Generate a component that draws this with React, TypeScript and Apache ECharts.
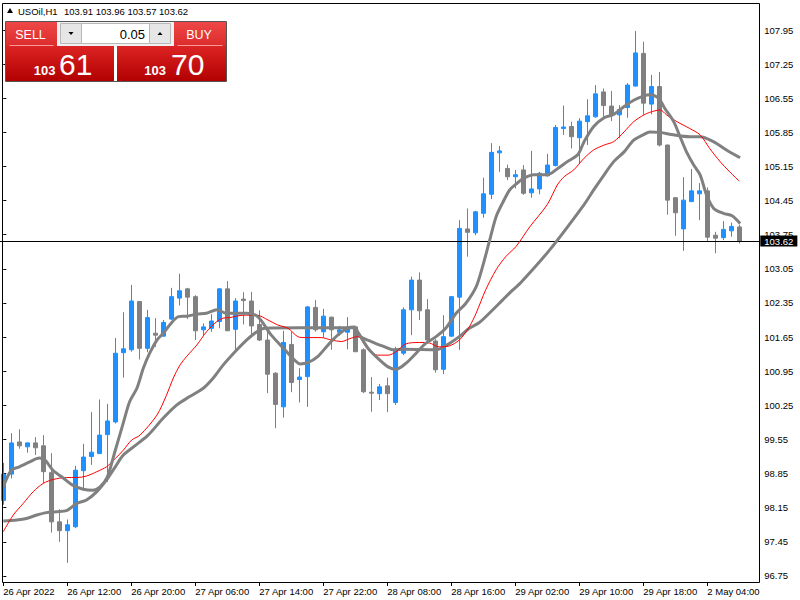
import React, { useEffect, useRef } from "react";
import * as echarts from "echarts";

// ---------- data ----------
const CATEGORIES: string[] = [
  "26 Apr 04:00", "26 Apr 05:00", "26 Apr 06:00", "26 Apr 07:00", "26 Apr 08:00", "26 Apr 09:00", "26 Apr 10:00", "26 Apr 11:00",
  "26 Apr 12:00", "26 Apr 13:00", "26 Apr 14:00", "26 Apr 15:00", "26 Apr 16:00", "26 Apr 17:00", "26 Apr 18:00", "26 Apr 19:00",
  "26 Apr 20:00", "26 Apr 21:00", "26 Apr 22:00", "26 Apr 23:00",
  "27 Apr 02:00", "27 Apr 03:00", "27 Apr 04:00", "27 Apr 05:00", "27 Apr 06:00", "27 Apr 07:00", "27 Apr 08:00", "27 Apr 09:00",
  "27 Apr 10:00", "27 Apr 11:00", "27 Apr 12:00", "27 Apr 13:00", "27 Apr 14:00", "27 Apr 15:00", "27 Apr 16:00", "27 Apr 17:00",
  "27 Apr 18:00", "27 Apr 19:00", "27 Apr 20:00", "27 Apr 21:00", "27 Apr 22:00", "27 Apr 23:00",
  "28 Apr 02:00", "28 Apr 03:00", "28 Apr 04:00", "28 Apr 05:00", "28 Apr 06:00", "28 Apr 07:00", "28 Apr 08:00", "28 Apr 09:00",
  "28 Apr 10:00", "28 Apr 11:00", "28 Apr 12:00", "28 Apr 13:00", "28 Apr 14:00", "28 Apr 15:00", "28 Apr 16:00", "28 Apr 17:00",
  "28 Apr 18:00", "28 Apr 19:00", "28 Apr 20:00", "28 Apr 21:00", "28 Apr 22:00", "28 Apr 23:00",
  "29 Apr 02:00", "29 Apr 03:00", "29 Apr 04:00", "29 Apr 05:00", "29 Apr 06:00", "29 Apr 07:00", "29 Apr 08:00", "29 Apr 09:00",
  "29 Apr 10:00", "29 Apr 11:00", "29 Apr 12:00", "29 Apr 13:00", "29 Apr 14:00", "29 Apr 15:00", "29 Apr 16:00", "29 Apr 17:00",
  "29 Apr 18:00", "29 Apr 19:00", "29 Apr 20:00", "29 Apr 21:00", "29 Apr 22:00", "29 Apr 23:00",
  "2 May 02:00", "2 May 03:00", "2 May 04:00", "2 May 05:00", "2 May 06:00", "2 May 07:00", "2 May 08:00",
];
const FIRST_LABEL = "26 Apr 2022";

const OPEN = [
  98.30, 98.84, 99.50, 99.40, 99.48, 99.42, 98.87, 97.86, 97.68, 97.76,
  98.91, 99.20, 99.26, 99.65, 99.91, 101.33, 101.39, 102.38, 101.42, 101.73,
  101.67, 102.02, 102.45, 102.64, 102.48, 101.80, 101.83, 101.97, 102.64, 101.81,
  102.43, 102.39, 101.91, 101.59, 100.91, 100.22, 101.50, 100.78, 100.84, 102.26,
  101.76, 102.06, 101.75, 101.75, 101.86, 101.39, 100.52, 100.49, 100.65, 100.31,
  101.32, 102.21, 102.82, 102.21, 101.57, 100.99, 101.67, 102.47, 103.87, 103.79,
  104.19, 104.58, 105.43, 105.11, 104.94, 105.08, 104.61, 104.69, 104.96, 105.17,
  105.93, 105.97, 105.74, 106.07, 106.17, 106.68, 106.39, 106.21, 106.36, 106.80,
  107.47, 106.43, 106.79, 105.59, 104.51, 103.87, 104.43, 104.59, 104.65, 103.74,
  103.69, 103.83, 103.91,
];
const CLOSE = [
  98.84, 99.48, 99.42, 99.48, 99.38, 98.89, 97.86, 97.68, 97.80, 98.92,
  99.19, 99.29, 99.64, 99.93, 101.32, 101.41, 102.39, 101.42, 102.05, 101.69,
  101.95, 102.48, 102.60, 102.47, 101.78, 101.86, 101.98, 102.64, 101.78, 102.39,
  102.40, 101.88, 101.59, 100.89, 100.27, 101.54, 100.72, 100.83, 102.27, 101.80,
  102.08, 101.80, 101.80, 101.85, 101.35, 100.53, 100.50, 100.63, 100.49, 101.40,
  102.21, 102.82, 102.19, 101.59, 100.98, 101.66, 102.48, 103.88, 103.80, 104.22,
  104.59, 105.44, 105.47, 104.94, 104.98, 104.60, 104.69, 105.01, 105.18, 105.95,
  105.96, 105.76, 106.08, 106.19, 106.64, 106.40, 106.22, 106.32, 106.82, 107.48,
  106.45, 106.79, 105.59, 104.46, 104.20, 104.46, 104.65, 104.65, 103.70, 103.68,
  103.86, 103.92, 103.62,
];
const LOW = [
  98.21, 98.75, 99.36, 99.28, 99.23, 98.65, 97.64, 97.45, 97.02, 97.73,
  98.51, 99.03, 99.26, 98.68, 99.88, 100.82, 101.35, 101.19, 101.34, 101.45,
  101.67, 102.00, 102.30, 102.02, 101.59, 101.69, 101.76, 101.83, 101.78, 101.34,
  101.91, 101.69, 101.57, 100.50, 99.78, 100.00, 100.52, 100.31, 100.22, 101.76,
  101.64, 101.39, 101.68, 101.40, 101.35, 100.50, 100.12, 100.36, 100.11, 100.26,
  101.28, 101.69, 102.00, 101.56, 100.92, 100.89, 101.66, 101.39, 103.30, 103.74,
  104.10, 104.48, 105.04, 104.87, 104.70, 104.57, 104.51, 104.58, 104.94, 105.15,
  105.80, 105.52, 105.22, 105.59, 106.15, 106.17, 106.08, 105.73, 106.15, 106.79,
  106.21, 106.22, 105.56, 104.16, 103.73, 103.42, 104.42, 104.05, 103.61, 103.37,
  103.64, 103.71, 103.57,
];
const HIGH = [
  99.07, 99.68, 99.76, 99.49, 99.60, 99.64, 99.27, 98.12, 97.91, 99.01,
  99.46, 100.11, 100.37, 100.28, 101.63, 102.16, 102.72, 102.39, 102.21, 102.04,
  102.00, 102.66, 102.95, 102.66, 102.51, 101.93, 102.12, 102.65, 102.80, 102.45,
  102.57, 102.58, 102.20, 101.83, 100.93, 101.78, 101.76, 101.01, 102.29, 102.41,
  102.23, 102.07, 101.88, 102.06, 101.88, 101.42, 100.83, 100.69, 100.82, 101.45,
  102.26, 102.89, 102.98, 102.43, 101.61, 102.10, 102.49, 104.05, 104.29, 104.24,
  104.92, 105.63, 105.57, 105.19, 105.08, 105.18, 105.47, 105.04, 105.41, 106.00,
  106.40, 106.07, 106.14, 106.53, 106.82, 106.75, 106.70, 106.41, 106.86, 107.93,
  107.71, 107.03, 107.09, 105.60, 104.52, 104.93, 105.10, 104.81, 104.72, 103.81,
  104.03, 104.00, 103.96,
];

// moving averages: [bar index, price]
const MA_FAST: [number, number][] = [
  [0, 98.58], [1, 98.92], [2, 98.99], [3.3, 99.09], [4.5, 99.17], [5.2, 99.13], [6.2, 98.92], [7.5, 98.76],
  [8.6, 98.62], [10, 98.53], [11.2, 98.51], [12.1, 98.58], [13, 98.78], [14, 99.33], [15, 99.89], [15.8, 100.33],
  [16.7, 100.6], [17.5, 101.01], [18.3, 101.32], [19.2, 101.59], [20, 101.73], [20.8, 101.9], [21.9, 102.07],
  [22.9, 102.08], [24.2, 102.12], [25.4, 102.14], [26.7, 102.21], [27.9, 102.14], [29.2, 102.14], [30.4, 102.14],
  [31.8, 102.07], [33.5, 101.69], [35.2, 101.39], [36.4, 101.18], [37.1, 101.1], [38.1, 101.13], [39.3, 101.25],
  [40.6, 101.49], [41.8, 101.69], [43.1, 101.84], [43.9, 101.86], [44.3, 101.76], [45.6, 101.42], [46.8, 101.22],
  [48.1, 101.04], [49.1, 100.99], [50.3, 101.11], [51.6, 101.32], [52.8, 101.52], [54.1, 101.66], [55.3, 101.83],
  [56.6, 102.14], [57.8, 102.34], [59.1, 102.68], [59.9, 103.09], [60.8, 103.64], [61.6, 104.12], [62.4, 104.4],
  [63.3, 104.67], [64.1, 104.79], [65.1, 104.91], [66.3, 104.98], [68, 104.98], [69.3, 105.11], [70.5, 105.25],
  [71.8, 105.39], [72.6, 105.66], [73.8, 105.97], [75.1, 106.15], [76.3, 106.22], [77.6, 106.38], [78.8, 106.51],
  [80.1, 106.6], [80.8, 106.62], [81.9, 106.55], [82.7, 106.34], [83.8, 106.07], [84.6, 105.76], [85.4, 105.45],
  [86.3, 105.18], [87.1, 104.98], [87.9, 104.57], [88.8, 104.29], [90, 104.19], [91.1, 104.14], [92.1, 103.98],
];
const MA_MID: [number, number][] = [
  [0, 97.66], [1.25, 98.0], [2.5, 98.24], [3.75, 98.48], [5, 98.65], [6.25, 98.73], [7.9, 98.77], [9.2, 98.77],
  [10.4, 98.8], [11.7, 98.89], [12.9, 98.99], [14, 99.16], [15, 99.33], [16.05, 99.54], [17.1, 99.64],
  [19.2, 100.05], [20.4, 100.46], [21.25, 100.81], [22.1, 101.08], [22.9, 101.25], [24.2, 101.49], [25.4, 101.76],
  [26.7, 101.97], [27.5, 102.04], [28.3, 102.05], [30, 102.1], [31.7, 102.1], [33.1, 102.0], [34.3, 101.9],
  [35.6, 101.83], [36.8, 101.66], [37.7, 101.64], [39.75, 101.64], [41, 101.59], [42.25, 101.56], [43.5, 101.63],
  [44.3, 101.66], [45.6, 101.39], [46.8, 101.28], [48.1, 101.28], [49.1, 101.35], [50.3, 101.51], [52, 101.54],
  [53.25, 101.53], [54.5, 101.45], [55.75, 101.47], [57, 101.59], [58.25, 101.86], [59.1, 102.14], [60.3, 102.62],
  [61.6, 103.03], [62.8, 103.3], [64.1, 103.51], [65.8, 103.91], [68, 104.37], [69.25, 104.77], [70.1, 104.94],
  [71.3, 105.08], [72.6, 105.32], [73.8, 105.49], [75.1, 105.59], [76.3, 105.66], [77.6, 105.86], [78.8, 106.07],
  [80.1, 106.21], [80.8, 106.26], [82.1, 106.31], [82.9, 106.21], [84.2, 106.07], [85.8, 105.93], [87.1, 105.8],
  [88.3, 105.52], [89.6, 105.25], [90.8, 105.04], [92, 104.85],
];
const MA_SLOW: [number, number][] = [
  [0, 97.88], [1.7, 97.9], [2.9, 97.93], [4.2, 98.0], [5.4, 98.05], [6.7, 98.07], [7.9, 98.09], [9.2, 98.24],
  [10.4, 98.31], [11.7, 98.48], [12.9, 98.72], [14, 98.99], [15, 99.23], [16.05, 99.37], [18.1, 99.64],
  [20, 99.99], [21.7, 100.26], [23.3, 100.43], [25, 100.6], [26.25, 100.81], [27.5, 101.08], [29.2, 101.39],
  [30.4, 101.59], [31.7, 101.76], [32.7, 101.83], [37.1, 101.84], [43.9, 101.84], [44.3, 101.69], [46, 101.56],
  [47.7, 101.45], [48.7, 101.39], [50.3, 101.4], [54.1, 101.39], [55.75, 101.52], [57, 101.66], [58.25, 101.83],
  [59.5, 101.95], [60.75, 102.14], [62.4, 102.41], [63.7, 102.62], [64.7, 102.77], [68.3, 103.44], [72.6, 104.37],
  [73.8, 104.67], [75.1, 104.98], [76.3, 105.25], [77.6, 105.45], [78.8, 105.69], [80.1, 105.81], [80.8, 105.86],
  [82.1, 105.85], [83.75, 105.8], [85.8, 105.76], [87.1, 105.76], [88.75, 105.66], [90.4, 105.49], [92.1, 105.33],
];

const PRICE_TICKS = [
  96.75, 97.45, 98.15, 98.85, 99.55, 100.25, 100.95, 101.65, 102.35,
  103.05, 103.75, 104.45, 105.15, 105.85, 106.55, 107.25, 107.95,
];
const LAST_PRICE = 103.62;
const SYMBOL = "USOil,H1";
const OHLC_TEXT = "103.91 103.96 103.57 103.62";
const BID_BIG = "103";
const BID_SMALL = "61";
const ASK_BIG = "103";
const ASK_SMALL = "70";
const LOT = "0.05";
const TIME_LABEL_STEP = 8;
const LAST_TIME_LABEL = 88;
const EMPTY_SLOTS = 2;
const Y_MIN = 96.606;
const Y_MAX = 108.504;

const FONT = "'Liberation Sans', Arial, sans-serif";
const BULL = "#1e90ff";
const BEAR = "#808080";

export default function App() {
  const ref = useRef<HTMLDivElement>(null);

  useEffect(() => {
    if (!ref.current) return;
    const chart = echarts.init(ref.current, undefined, { renderer: "svg" });
    const xData = [...CATEGORIES, ...Array(EMPTY_SLOTS).fill("")];
    const candles = CATEGORIES.map((_, i) => [OPEN[i], CLOSE[i], LOW[i], HIGH[i]]);
    const showLabel = (i: number) => i % TIME_LABEL_STEP === 0 && i <= LAST_TIME_LABEL;

    const redGrad = (a: string, b: string) =>
      new echarts.graphic.LinearGradient(0, 0, 0, 1, [
        { offset: 0, color: a },
        { offset: 1, color: b },
      ]);

    const txt = (x: number, y: number, text: string, size: number, fill: string, align: string, weight = "normal") => ({
      type: "text",
      x,
      y,
      z: 101,
      silent: true,
      style: {
        text,
        fill,
        fontSize: size,
        fontFamily: FONT,
        fontWeight: weight,
        align,
        verticalAlign: "middle",
      },
    });

    const option: any = {
      animation: false,
      backgroundColor: "#ffffff",
      grid: {
        left: -0.7,
        top: 3,
        width: 760,
        height: 580,
        show: false,
        containLabel: false,
        outerBoundsMode: "none",
      },
      xAxis: [
        {
          type: "category",
          data: xData,
          boundaryGap: true,
          axisLine: { show: false },
          axisTick: {
            show: true,
            interval: (i: number) => showLabel(i),
            alignWithLabel: true,
            length: 3,
            lineStyle: { color: "#000" },
          },
          axisLabel: {
            interval: (i: number) => showLabel(i),
            formatter: (v: string, i: number) => (i === 0 ? FIRST_LABEL : v),
            align: "left",
            margin: 3,
            color: "#000",
            fontSize: 9.5,
            fontFamily: FONT,
            hideOverlap: false,
          },
          splitLine: { show: false },
        },
        {
          type: "value",
          min: -0.5,
          max: CATEGORIES.length + EMPTY_SLOTS - 0.5,
          show: false,
        },
      ],
      yAxis: {
        type: "value",
        position: "right",
        min: Y_MIN,
        max: Y_MAX,
        scale: true,
        axisLine: { show: false },
        splitLine: { show: false },
        axisTick: {
          show: true,
          customValues: PRICE_TICKS,
          length: 3,
          lineStyle: { color: "#000" },
        },
        axisLabel: {
          customValues: PRICE_TICKS,
          formatter: (v: number) => v.toFixed(2),
          margin: 5,
          color: "#000",
          fontSize: 9.5,
          fontFamily: FONT,
          showMinLabel: true,
          showMaxLabel: true,
        },
      },
      series: [
        {
          type: "candlestick",
          data: candles,
          barWidth: 4,
          silent: true,
          z: 3,
          itemStyle: {
            color: BULL,
            color0: BEAR,
            borderColor: BULL,
            borderColor0: BEAR,
            borderWidth: 1,
          },
          markLine: {
            silent: true,
            symbol: ["none", "none"],
            animation: false,
            data: [{ yAxis: LAST_PRICE }],
            lineStyle: { color: "#000", width: 1, type: "solid" },
            label: {
              show: true,
              position: "end",
              distance: 1,
              formatter: () => LAST_PRICE.toFixed(2),
              backgroundColor: "#000",
              color: "#fff",
              padding: [1, 4, 0, 4],
              fontSize: 9.5,
              fontFamily: FONT,
            },
          },
        },
        {
          type: "line",
          xAxisIndex: 1,
          data: MA_SLOW,
          symbol: "none",
          smooth: 0.3,
          silent: true,
          z: 5,
          lineStyle: { color: "#808080", width: 3 },
        },
        {
          type: "line",
          xAxisIndex: 1,
          data: MA_MID,
          symbol: "none",
          smooth: 0.3,
          silent: true,
          z: 5,
          lineStyle: { color: "#ff0000", width: 1 },
        },
        {
          type: "line",
          xAxisIndex: 1,
          data: MA_FAST,
          symbol: "none",
          smooth: 0.3,
          silent: true,
          z: 6,
          lineStyle: { color: "#808080", width: 3 },
        },
      ],
      graphic: [
        {
          type: "rect",
          silent: true,
          z: 50,
          shape: { x: 2.5, y: 3.5, width: 757, height: 579 },
          style: { fill: "none", stroke: "#000", lineWidth: 1 },
        },
        // header
        {
          type: "polygon",
          silent: true,
          z: 101,
          shape: { points: [[7, 13], [10, 8], [13, 13]] },
          style: { fill: "#000" },
        },
        txt(18, 11, SYMBOL, 9.5, "#000", "left"),
        txt(64, 11, OHLC_TEXT, 9.5, "#000", "left"),
        // trade panel
        {
          type: "rect",
          silent: true,
          z: 100,
          shape: { x: 5.5, y: 21.5, width: 221, height: 60 },
          style: { fill: "#ffffff", stroke: "#555", lineWidth: 1 },
        },
        {
          type: "rect",
          silent: true,
          z: 100,
          shape: { x: 6, y: 22, width: 51, height: 24 },
          style: { fill: redGrad("#ee4747", "#dc2c2c") },
        },
        {
          type: "rect",
          silent: true,
          z: 100,
          shape: { x: 174, y: 22, width: 52, height: 24 },
          style: { fill: redGrad("#ee4747", "#dc2c2c") },
        },
        {
          type: "line",
          silent: true,
          z: 101,
          shape: { x1: 9.5, y1: 45.5, x2: 53.5, y2: 45.5 },
          style: { stroke: "#f59a9a", lineWidth: 1 },
        },
        {
          type: "line",
          silent: true,
          z: 101,
          shape: { x1: 177.5, y1: 45.5, x2: 222.5, y2: 45.5 },
          style: { stroke: "#f59a9a", lineWidth: 1 },
        },
        {
          type: "rect",
          silent: true,
          z: 100,
          shape: { x: 57, y: 22, width: 117, height: 24 },
          style: { fill: "#f0f0f0" },
        },
        {
          type: "rect",
          silent: true,
          z: 101,
          shape: { x: 60.5, y: 23.5, width: 21, height: 20 },
          style: { fill: "#e6e6e6", stroke: "#b8b8b8", lineWidth: 1 },
        },
        {
          type: "rect",
          silent: true,
          z: 101,
          shape: { x: 81.5, y: 23.5, width: 68, height: 20 },
          style: { fill: "#ffffff", stroke: "#b8b8b8", lineWidth: 1 },
        },
        {
          type: "rect",
          silent: true,
          z: 101,
          shape: { x: 149.5, y: 23.5, width: 21, height: 20 },
          style: { fill: "#e6e6e6", stroke: "#b8b8b8", lineWidth: 1 },
        },
        {
          type: "polygon",
          silent: true,
          z: 102,
          shape: { points: [[68.5, 32], [73.5, 32], [71, 35]] },
          style: { fill: "#000" },
        },
        {
          type: "polygon",
          silent: true,
          z: 102,
          shape: { points: [[157.5, 35], [162.5, 35], [160, 32]] },
          style: { fill: "#000" },
        },
        txt(145, 34, LOT, 13, "#000", "right"),
        txt(30.5, 34.5, "SELL", 12.5, "#ffffff", "center"),
        txt(199, 34.5, "BUY", 12.5, "#ffffff", "center"),
        {
          type: "rect",
          silent: true,
          z: 100,
          shape: { x: 6, y: 46, width: 108, height: 35 },
          style: { fill: redGrad("#dc2424", "#b20000") },
        },
        {
          type: "rect",
          silent: true,
          z: 100,
          shape: { x: 117, y: 46, width: 109, height: 35 },
          style: { fill: redGrad("#dc2424", "#b20000") },
        },
        txt(55.5, 70, BID_BIG, 13, "#ffffff", "right", "bold"),
        txt(59, 64.5, BID_SMALL, 30, "#ffffff", "left"),
        txt(166, 70, ASK_BIG, 13, "#ffffff", "right", "bold"),
        txt(171, 64.5, ASK_SMALL, 30, "#ffffff", "left"),
      ],
    };

    chart.setOption(option);
    return () => chart.dispose();
  }, []);

  return (
    <div
      ref={ref}
      style={{ position: "fixed", left: 0, top: 0, width: 800, height: 600, background: "#fff" }}
    />
  );
}
